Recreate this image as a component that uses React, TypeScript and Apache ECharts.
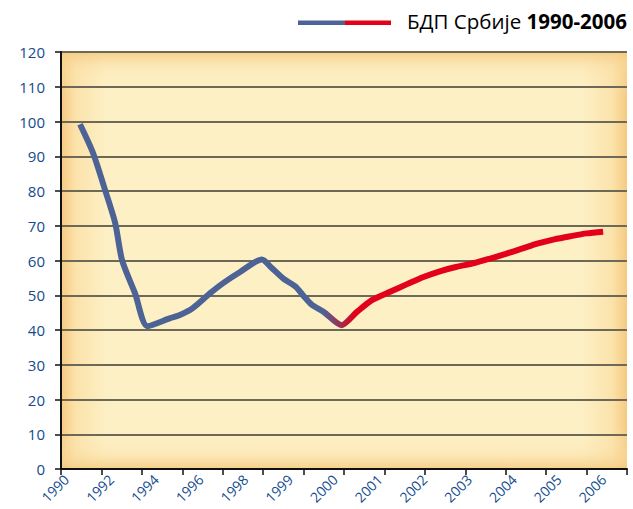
import React, { useEffect, useRef } from "react";
import * as echarts from "echarts";

// Category labels shown under the axis (13 labels, spread across the plot)
const yearLabels = ["1990", "1992", "1994", "1996", "1998", "1999", "2000", "2001", "2002", "2003", "2004", "2005", "2006"];
// Number of tick intervals on the x axis
const tickIntervals = 14;
// GDP line: position along the tick axis (0..14) and index value (1990 = 100)
const gdpX = [0.47, 0.79, 1.09, 1.34, 1.51, 1.83, 2.14, 2.7, 2.94, 3.26, 3.69, 4.01, 4.43, 4.97, 5.2, 5.5, 5.8, 6.0, 6.2, 6.5, 6.94, 7.32, 7.69, 8.14, 8.56, 8.95, 9.37, 9.79, 10.2, 10.6, 11.0, 11.4, 11.8, 12.2, 12.6, 13.0, 13.41];
const gdpY = [99.2, 91, 80.3, 70.8, 60.1, 50.6, 41.1, 43.4, 44.3, 46.3, 50.6, 53.5, 56.7, 60.3, 58, 54.8, 52.5, 49.8, 47.3, 45.2, 41.4, 45.2, 48.6, 51, 53.2, 55.2, 56.9, 58.2, 59.2, 60.5, 61.9, 63.4, 64.9, 66.1, 67, 67.8, 68.3];
const yTicks = { min: 0, max: 120, interval: 10 };
const legendTitle = "БДП Србије ";
const legendYears = "1990-2006";

const BLUE = "#4e6395";
const RED = "#e2001a";
const TEXT = "#134b8d";
const FONT = "Open Sans";

export default function App() {
  const ref = useRef<HTMLDivElement>(null);
  useEffect(() => {
    if (!ref.current) return;
    const chart = echarts.init(ref.current, null, { renderer: "svg" });
    const G = { left: 61, right: 6, top: 52, bottom: 40 };
    const W = 633 - G.left - G.right;
    const H = 509 - G.top - G.bottom;
    const data = gdpX.map((x, i) => [x, gdpY[i]]);
    chart.setOption({
      animation: false,
      textStyle: { fontFamily: FONT },
      grid: [
        { left: G.left, right: G.right, top: G.top, bottom: G.bottom },
        { left: 44, right: 7, top: G.top, bottom: G.bottom },
      ],
      graphic: [
        {
          type: "rect",
          z: -10,
          shape: { x: G.left, y: G.top, width: W, height: H },
          style: {
            fill: new echarts.graphic.LinearGradient(0, 0, 1, 0, [
              { offset: 0, color: "#f6ca80" },
              { offset: 0.025, color: "#fbe2aa" },
              { offset: 0.08, color: "#fdf0c5" },
              { offset: 0.92, color: "#fdf0c5" },
              { offset: 0.975, color: "#fbe2aa" },
              { offset: 1, color: "#f6ca80" },
            ]),
          },
        },
        {
          type: "rect",
          z: -9,
          shape: { x: G.left, y: G.top, width: W, height: H },
          style: {
            fill: new echarts.graphic.LinearGradient(0, 0, 0, 1, [
              { offset: 0, color: "rgba(246,202,128,0.85)" },
              { offset: 0.04, color: "rgba(250,222,165,0.35)" },
              { offset: 0.1, color: "rgba(253,240,197,0)" },
              { offset: 0.9, color: "rgba(253,240,197,0)" },
              { offset: 0.96, color: "rgba(250,222,165,0.35)" },
              { offset: 1, color: "rgba(246,202,128,0.85)" },
            ]),
          },
        },
        {
          type: "line",
          shape: { x1: 298, y1: 22.7, x2: 345, y2: 22.7 },
          style: { stroke: BLUE, lineWidth: 4.5 },
        },
        {
          type: "line",
          shape: { x1: 345, y1: 22.7, x2: 391, y2: 22.7 },
          style: { stroke: RED, lineWidth: 4.5 },
        },
        {
          type: "text",
          x: 407,
          y: 21,
          style: {
            text: "{a|" + legendTitle + "}{b|" + legendYears + "}",
            verticalAlign: "middle",
            rich: {
              a: { fontFamily: FONT, fontSize: 20.5, color: TEXT },
              b: { fontFamily: FONT, fontSize: 20.5, fontWeight: "bold", color: TEXT },
            },
          },
        },
      ],
      xAxis: [
        {
          type: "value",
          gridIndex: 0,
          min: 0,
          max: tickIntervals,
          interval: 1,
          axisLine: { show: true, lineStyle: { color: "#111", width: 2 } },
          axisTick: { show: true, length: 6, lineStyle: { color: "#111", width: 1.5 } },
          axisLabel: { show: false },
          splitLine: { show: false },
        },
        {
          type: "category",
          gridIndex: 1,
          data: yearLabels,
          boundaryGap: true,
          axisLine: { show: false },
          axisTick: { show: false },
          splitLine: { show: false },
          axisLabel: {
            rotate: 45,
            margin: 8,
            interval: 0,
            color: TEXT,
            fontSize: 14,
            fontFamily: FONT,
          },
        },
      ],
      yAxis: [
        {
          type: "value",
          gridIndex: 0,
          min: yTicks.min,
          max: yTicks.max,
          interval: yTicks.interval,
          axisLine: { show: true, lineStyle: { color: "#111", width: 2 } },
          axisTick: { show: true, length: 6, lineStyle: { color: "#111", width: 1.5 } },
          axisLabel: { color: TEXT, fontSize: 15, margin: 16, fontFamily: FONT },
          splitLine: { show: true, lineStyle: { color: "#6e6956", width: 2 } },
        },
        {
          type: "value",
          gridIndex: 1,
          min: yTicks.min,
          max: yTicks.max,
          show: false,
          splitLine: { show: false },
        },
      ],
      series: [
        {
          type: "line",
          name: "БДП Србије",
          xAxisIndex: 0,
          yAxisIndex: 0,
          data,
          smooth: 0.25,
          showSymbol: false,
          lineStyle: {
            width: 6,
            cap: "butt",
            color: new echarts.graphic.LinearGradient(0, 0, 1, 0, [
              { offset: 0, color: BLUE },
              { offset: 0.465, color: BLUE },
              { offset: 0.525, color: RED },
              { offset: 1, color: RED },
            ]),
          },
          z: 3,
        },
      ],
    });
    return () => chart.dispose();
  }, []);
  return (
    <div
      ref={ref}
      style={{ position: "fixed", left: 0, top: 0, width: 633, height: 509, background: "#fff" }}
    />
  );
}
